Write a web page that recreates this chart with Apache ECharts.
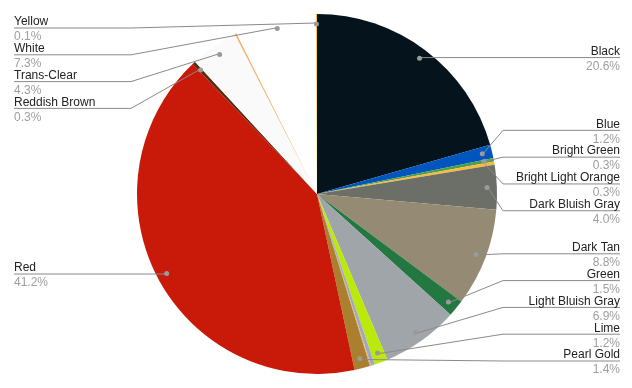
<!DOCTYPE html>
<html><head><meta charset="utf-8">
<script src="https://cdn.jsdelivr.net/npm/echarts@6/dist/echarts.min.js"></script>
<style>html,body{margin:0;padding:0;background:#fff}#c{width:632px;height:388px}</style>
</head><body><div id="c"></div>
<script>
const categories = ['Black','Blue','Bright Green','Bright Light Orange','Dark Bluish Gray','Dark Tan','Green','Light Bluish Gray','Lime','Metallic Silver','Nougat','Pearl Gold','Red','Reddish Brown','Trans-Clear','Trans-Orange','White','Yellow'];
const values = [20.6,1.2,0.3,0.3,4.0,8.8,1.5,6.9,1.2,0.35,0.1,1.4,41.2,0.3,4.3,0.15,7.3,0.1];
const colors = ['#05131d','#0055bf','#4b9f4a','#f8bb3d','#6c6e68','#958a73','#237841','#a0a5a9','#bbe90b','#9da9c5','#eeaa78','#aa7f2e','#c91a09','#582a12','#fafafa','#f5b26b','#ffffff','#f2cd37'];
const showLabel = [1,1,1,1,1,1,1,1,1,0,0,1,1,1,1,0,1,1];

const CX = 317, CY = 194, R = 180, DOT_R = 171, STEP = 26.8, TOP = 28, BOTTOM = 361;
const EDGE_R = 620, EDGE_L = 14, ELBOW = 117, TEXT_SHIFT = 1.5;

const total = values.reduce((a, b) => a + b, 0);
let cum = 0;
const info = [];
values.forEach((v, i) => {
  const mid = (cum + v / 2) / total * 2 * Math.PI;
  cum += v;
  if (!showLabel[i]) return;
  const dx = DOT_R * Math.sin(mid), dy = -DOT_R * Math.cos(mid);
  info.push({ i, side: Math.sin(mid) >= 0 ? 1 : -1, dot: [CX + dx, CY + dy], ideal: CY + dy });
});

function place(items) {
  items.sort((a, b) => a.ideal - b.ideal);
  const clusters = items.map(it => ({ items: [it], y0: it.ideal }));
  function fit(c) {
    let lo = Infinity, hi = -Infinity;
    c.items.forEach((it, k) => { const v = it.ideal - k * STEP; lo = Math.min(lo, v); hi = Math.max(hi, v); });
    c.y0 = (lo + hi) / 2;
    const n = c.items.length;
    if (c.y0 < TOP) c.y0 = TOP;
    if (c.y0 + (n - 1) * STEP > BOTTOM) c.y0 = BOTTOM - (n - 1) * STEP;
  }
  clusters.forEach(fit);
  let changed = true;
  while (changed) {
    changed = false;
    for (let k = 0; k < clusters.length - 1; k++) {
      const a = clusters[k], b = clusters[k + 1];
      if (a.y0 + a.items.length * STEP > b.y0 + 1e-6) {
        a.items = a.items.concat(b.items);
        clusters.splice(k + 1, 1);
        fit(a);
        changed = true;
        break;
      }
    }
  }
  clusters.forEach(c => c.items.forEach((it, k) => { it.y = c.y0 + k * STEP; }));
}
place(info.filter(d => d.side > 0));
place(info.filter(d => d.side < 0));

const layoutMap = {};
info.forEach(d => {
  const edge = d.side > 0 ? EDGE_R : EDGE_L;
  const elbowX = edge - d.side * ELBOW;
  layoutMap[d.i] = {
    x: edge, y: d.y + TEXT_SHIFT, align: d.side > 0 ? 'right' : 'left',
    points: [[d.dot[0], d.dot[1]], [elbowX, d.y], [edge, d.y]]
  };
});

const FONT = 'Liberation Sans, Arial, sans-serif';
const pieData = categories.map((name, i) => ({ name, value: values[i], itemStyle: { color: colors[i] } }));
const labelData = categories.map((name, i) => ({
  name, value: values[i],
  label: { show: !!showLabel[i] },
  labelLine: { show: !!showLabel[i] }
}));
const dotData = categories.map((name, i) => ({
  name, value: values[i],
  label: { show: !!showLabel[i] }
}));

const common = { type: 'pie', center: [CX, CY], startAngle: 90, clockwise: true, silent: true, avoidLabelOverlap: false };

const chart = echarts.init(document.getElementById('c'), null, { renderer: 'canvas' });
chart.setOption({
  animation: false,
  backgroundColor: '#ffffff',
  series: [
    Object.assign({}, common, {
      z: 2,
      radius: [0, R],
      itemStyle: { borderWidth: 0 },
      data: pieData,
      label: { show: false },
      labelLine: { show: false }
    }),
    Object.assign({}, common, {
      z: 4,
      radius: [0, R],
      itemStyle: { color: 'rgba(0,0,0,0)', borderWidth: 0 },
      data: labelData,
      label: {
        position: 'outside',
        fontFamily: FONT,
        formatter: p => '{n|' + p.name + '}\n{p|' + values[p.dataIndex].toFixed(1) + '%}',
        rich: {
          n: { fontSize: 12, lineHeight: 15, color: '#222222', fontFamily: FONT },
          p: { fontSize: 12, lineHeight: 15, color: '#9e9e9e', fontFamily: FONT }
        }
      },
      labelLine: { show: true, showAbove: true, lineStyle: { color: '#8a8a8a', width: 1 } },
      labelLayout: function (p) {
        const L = layoutMap[p.dataIndex];
        if (!L) return;
        return { x: L.x, y: L.y, align: L.align, verticalAlign: 'middle', labelLinePoints: L.points };
      }
    }),
    Object.assign({}, common, {
      z: 6,
      radius: [0, DOT_R * 2 * 171 / 175],
      itemStyle: { color: 'rgba(0,0,0,0)', borderWidth: 0 },
      data: dotData,
      label: {
        position: 'inside',
        formatter: '{a| }',
        rich: { a: { width: 5, height: 5, borderRadius: 2.5, backgroundColor: '#9a9a9a', fontSize: 1, lineHeight: 5 } }
      },
      labelLine: { show: false }
    })
  ]
});
</script></body></html>
